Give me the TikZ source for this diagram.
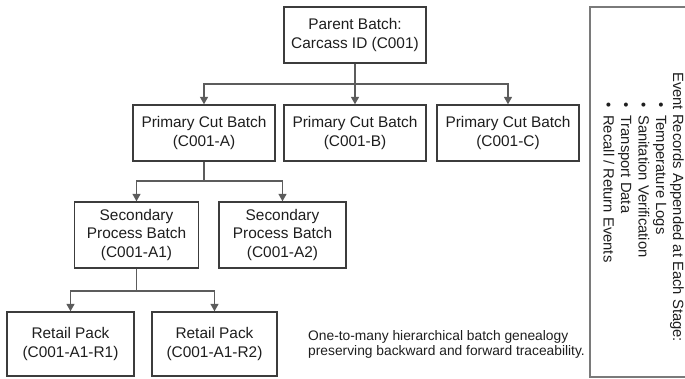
\documentclass[tikz,border=0pt]{standalone}
\usepackage{fontspec}
\setmainfont{Liberation Sans}
\usetikzlibrary{arrows.meta}
\definecolor{boxc}{HTML}{3C3C3C}
\definecolor{linec}{HTML}{5C5C5C}
\definecolor{sidec}{HTML}{7A7A7A}
\definecolor{txt}{HTML}{1E1E1E}
\begin{document}
\begin{tikzpicture}[x=1pt,y=-1pt,
  batch/.style={draw=boxc, line width=1.4pt, fill=white, inner sep=0pt,
    align=center, text=txt, font=\fontsize{15.4}{18.5}\selectfont},
  conn/.style={draw=linec, line width=1.5pt},
  arr/.style={conn, -{Triangle[length=7.5pt,width=8pt]}},
  sidetext/.style={rotate=-90, anchor=base west, inner sep=0pt, text=txt,
    font=\fontsize{14.8}{17.5}\selectfont},
  captext/.style={anchor=base west, inner sep=0pt, align=left, text=txt,
    font=\fontsize{13.8}{15}\selectfont}]
\useasboundingbox (0,0) rectangle (685,379);

% level 0
\node[batch, minimum width=142pt, minimum height=56pt] (P) at (355,35) {Parent Batch:\\Carcass ID (C001)};
% level 1
\node[batch, minimum width=142pt, minimum height=56pt] (A) at (204,133) {Primary Cut Batch\\(C001-A)};
\node[batch, minimum width=142pt, minimum height=56pt] (B) at (355,133) {Primary Cut Batch\\(C001-B)};
\node[batch, minimum width=142pt, minimum height=56pt] (C) at (508,133) {Primary Cut Batch\\(C001-C)};
% level 2
\node[batch, minimum width=124pt, minimum height=66pt] (A1) at (136.5,235) {Secondary\\Process Batch\\(C001-A1)};
\node[batch, minimum width=127pt, minimum height=66pt] (A2) at (282.5,235) {Secondary\\Process Batch\\(C001-A2)};
% level 3
\node[batch, minimum width=127pt, minimum height=64pt] (R1) at (70.5,344) {Retail Pack\\(C001-A1-R1)};
\node[batch, minimum width=125pt, minimum height=64pt] (R2) at (214.5,344) {Retail Pack\\(C001-A1-R2)};

% connectors
\coordinate (j1) at (355,84);
\draw[conn] (P.south) -- (j1);
\draw[arr] (j1) -| (A.north);
\draw[arr] (j1) -- (B.north);
\draw[arr] (j1) -| (C.north);

\coordinate (j2) at (204,181);
\draw[conn] (A.south) -- (j2);
\draw[arr] (j2) -| (A1.north);
\draw[arr] (j2) -| (A2.north);

\coordinate (j3) at (136.5,291);
\draw[conn] (A1.south) -- (j3);
\draw[arr] (j3) -| (R1.north);
\draw[arr] (j3) -| (R2.north);

% caption
\node[captext] (cap) at (308,355.5) {One-to-many hierarchical batch genealogy\\preserving backward and forward traceability.};

% side panel
\coordinate (s1) at (685,7);
\coordinate (s2) at (590,7);
\coordinate (s3) at (590,377);
\coordinate (s4) at (685,377);
\draw[draw=sidec, line width=1.3pt] (s1) -- (s2) -- (s3) -- (s4);
\node[sidetext] (h) at (673,72) {Event Records Appended at Each Stage:};
\node[sidetext] (e1) at (656,102.4) {\makebox[12.6pt][l]{•}Temperature Logs};
\node[sidetext] (e2) at (638.5,102.4) {\makebox[12.6pt][l]{•}Sanitation Verification};
\node[sidetext] (e3) at (621,102.4) {\makebox[12.6pt][l]{•}Transport Data};
\node[sidetext] (e4) at (603.5,102.4) {\makebox[12.6pt][l]{•}Recall / Return Events};
\end{tikzpicture}
\end{document}
